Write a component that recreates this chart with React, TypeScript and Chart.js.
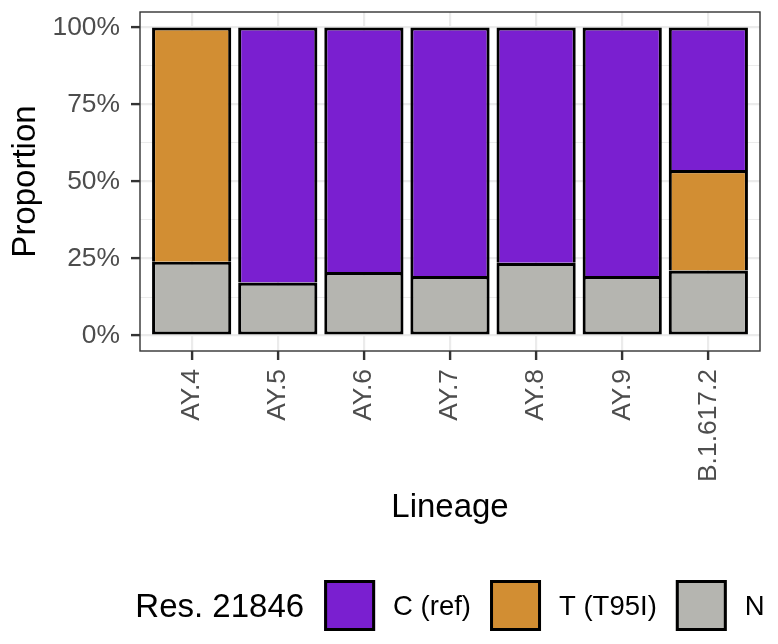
import React, { useEffect, useRef } from 'react';
import { Chart, registerables } from 'chart.js';

Chart.register(...registerables);

const FONT = '"Liberation Sans", Arial, Helvetica, sans-serif';

// ---- data ----
const lineages = ['AY.4', 'AY.5', 'AY.6', 'AY.7', 'AY.8', 'AY.9', 'B.1.617.2'];
const nValues = [24.0, 17.2, 20.6, 19.3, 23.6, 19.3, 21.1];
const tValues = [76.0, 0, 0, 0, 0, 0, 32.6];
const cValues = [0, 82.8, 79.4, 80.7, 76.4, 80.7, 46.3];
const seriesLabels = ['N', 'T (T95I)', 'C (ref)'];
const seriesColors = ['#B5B5B0', '#D28E33', '#7A1FD0'];
const legendTitle = 'Res. 21846';
const yTickValues = [0, 25, 50, 75, 100];
const yTickLabels = ['0%', '25%', '50%', '75%', '100%'];
const yMinorValues = [12.5, 37.5, 62.5, 87.5];
const xTitle = 'Lineage';
const yTitle = 'Proportion';

const seriesValues = [nValues, tValues, cValues];

const OUT = 3.1;

const panelAndLegend = {
  id: 'panelAndLegend',
  afterDraw(chart: any) {
    const { ctx, chartArea: a } = chart;
    ctx.save();
    ctx.strokeStyle = '#333333';
    ctx.lineWidth = 1.4;
    ctx.strokeRect(a.left, a.top, a.right - a.left, a.bottom - a.top);

    const items = chart.data.datasets
      .map((d: any) => ({ label: d.label, color: d.backgroundColor }))
      .reverse();
    const titleSize = 33;
    const labelSize = 27.5;
    const box = 51;
    const gapTitle = 20;
    const gapLabel = 18;
    const gapItem = 19;
    const titleFont = `${titleSize}px ${FONT}`;
    const labelFont = `${labelSize}px ${FONT}`;
    ctx.font = titleFont;
    const titleW = ctx.measureText(legendTitle).width;
    ctx.font = labelFont;
    const widths = items.map((it: any) => ctx.measureText(it.label).width);
    const total =
      titleW +
      widths.reduce(
        (s: number, w: number, k: number) => s + (k === 0 ? gapTitle : gapItem) + box + gapLabel + w,
        0
      );
    let x = (a.left + a.right) / 2 - total / 2;
    const cy = 605.5;
    ctx.textAlign = 'left';
    ctx.textBaseline = 'alphabetic';
    ctx.fillStyle = '#000000';
    ctx.font = titleFont;
    ctx.fillText(legendTitle, x, cy + 0.358 * titleSize);
    x += titleW;
    items.forEach((it: any, k: number) => {
      x += k === 0 ? gapTitle : gapItem;
      ctx.fillStyle = it.color;
      ctx.fillRect(x, cy - box / 2, box, box);
      ctx.lineWidth = 3;
      ctx.strokeStyle = '#000000';
      ctx.strokeRect(x + 1.5, cy - box / 2 + 1.5, box - 3, box - 3);
      x += box + gapLabel;
      ctx.fillStyle = '#000000';
      ctx.font = labelFont;
      ctx.fillText(it.label, x, cy + 0.358 * labelSize);
      x += widths[k];
    });
    ctx.restore();
  },
};

export default function App() {
  const canvasRef = useRef<HTMLCanvasElement | null>(null);

  useEffect(() => {
    const canvas = canvasRef.current;
    if (!canvas) return;
    Chart.defaults.font.family = FONT;

    const datasets = seriesValues.map((vals, s) => ({
      label: seriesLabels[s],
      data: vals.map((v, i) => ({ x: i + 1, y: v })),
      backgroundColor: seriesColors[s],
      borderColor: '#000000',
      borderSkipped: false as any,
      borderWidth: vals.map((_, i) => {
        const below = seriesValues.slice(0, s).some((arr) => arr[i] > 0);
        return { left: OUT, right: OUT, top: OUT, bottom: below ? 0 : OUT };
      }),
      categoryPercentage: 1,
      barPercentage: 0.92,
      inflateAmount: 0,
    }));

    const isMajor = (v: number) => yTickValues.indexOf(v) >= 0;

    const chart = new Chart(canvas, {
      type: 'bar',
      data: { datasets: datasets as any },
      plugins: [panelAndLegend],
      options: {
        animation: false,
        responsive: false,
        devicePixelRatio: 1,
        layout: { padding: { left: 0, right: 18, top: 12, bottom: 0 } },
        plugins: {
          legend: { display: false },
          tooltip: { enabled: false },
        },
        scales: {
          x: {
            type: 'linear',
            min: 0.4,
            max: 7.6,
            stacked: true,
            offset: false,
            afterBuildTicks: (s: any) => {
              s.ticks = lineages.map((_, i) => ({ value: i + 1 }));
            },
            afterFit: (s: any) => {
              s.height = 293;
              s.paddingLeft = 0;
              s.paddingRight = 0;
            },
            ticks: {
              autoSkip: false,
              minRotation: 90,
              maxRotation: 90,
              padding: 9,
              color: '#4D4D4D',
              font: { size: 26.4 },
              callback: (v: any) => lineages[Math.round(Number(v)) - 1],
            },
            grid: {
              offset: false,
              color: '#EBEBEB',
              lineWidth: 2.2,
              drawTicks: true,
              tickLength: 9,
              tickColor: '#333333',
              tickWidth: 2.4,
            },
            border: { display: false },
            title: {
              display: true,
              text: xTitle,
              color: '#000000',
              font: { size: 33 },
              padding: { top: 0, bottom: 116 },
            },
          } as any,
          y: {
            type: 'linear',
            min: -5,
            max: 105,
            stacked: true,
            afterBuildTicks: (s: any) => {
              s.ticks = [...yTickValues, ...yMinorValues]
                .sort((a, b) => a - b)
                .map((v) => ({ value: v }));
            },
            afterFit: (s: any) => {
              s.width = 140;
              s.paddingTop = 0;
              s.paddingBottom = 0;
            },
            ticks: {
              autoSkip: false,
              padding: 11,
              color: '#4D4D4D',
              font: { size: 26.4 },
              callback: (v: any) => {
                const k = yTickValues.indexOf(Number(v));
                return k >= 0 ? yTickLabels[k] : '';
              },
            },
            grid: {
              color: '#EBEBEB',
              lineWidth: (ctx: any) => (ctx.tick && isMajor(ctx.tick.value) ? 2.2 : 1.1),
              drawTicks: true,
              tickLength: 9,
              tickColor: (ctx: any) =>
                ctx.tick && isMajor(ctx.tick.value) ? '#333333' : 'rgba(0,0,0,0)',
              tickWidth: 2.4,
            },
            border: { display: false },
            title: {
              display: true,
              text: yTitle,
              color: '#000000',
              font: { size: 33 },
              padding: { top: 6, bottom: 0 },
            },
          } as any,
        },
      },
    });
    return () => chart.destroy();
  }, []);

  return (
    <div style={{ position: 'absolute', left: 0, top: 0, width: 778, height: 644, background: '#ffffff' }}>
      <canvas ref={canvasRef} width={778} height={644} style={{ display: 'block' }} />
    </div>
  );
}
